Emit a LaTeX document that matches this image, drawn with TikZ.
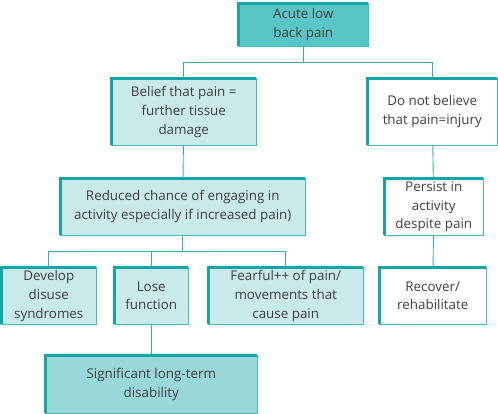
\documentclass[tikz,border=0pt]{standalone}
\usepackage{fontspec}
\setmainfont{Open Sans}
\usepackage{tikz}
\usetikzlibrary{positioning}
\definecolor{tealdark}{HTML}{12A6A8}
\definecolor{teallight}{HTML}{3DBDBE}
\definecolor{teallink}{HTML}{30B2B3}
\definecolor{filltop}{HTML}{58C5C7}
\definecolor{fillpale}{HTML}{C9E9EB}
\definecolor{fillmid}{HTML}{98D8D9}
\definecolor{txtgray}{HTML}{404040}

\begin{document}
\begin{tikzpicture}[x=1pt,y=1pt,every node/.style={font=\fontsize{13.4}{18.8}\selectfont,text=txtgray,align=center,inner sep=0pt,outer sep=0pt},
  box/.style={draw=teallight,line width=0.9pt,fill=fillpale},
  link/.style={draw=teallink,line width=0.9pt},
  edge/.style={draw=tealdark,line width=3pt}]
\useasboundingbox (0,0) rectangle (498,-414);
% top level
\node[box,fill=filltop,minimum width=129.5,minimum height=42.5] (pain) at (303.25,-24.75) {Acute low\\back pain};
\node[box,minimum width=144.5,minimum height=66.5] (belief) at (183.75,-111.75) {Belief that pain =\\further tissue\\damage};
\node[box,fill=white,minimum width=129.5,minimum height=66.5] (doubt) at (432.25,-111.75) {Do not believe\\that pain=injury};
% left branch
\node[box,minimum width=244.5,minimum height=56.5] (reduced) at (182.75,-206.75) {Reduced chance of engaging in\\activity especially if increased pain)};
\node[box,minimum width=94.5,minimum height=56.5] (develop) at (48.75,-295.75) {Develop\\disuse\\syndromes};
\node[box,minimum width=73.5,minimum height=56.5] (lose) at (151.25,-295.75) {Lose\\function};
\node[box,minimum width=154.5,minimum height=56.5] (fearful) at (285.75,-295.75) {Fearful++ of pain/\\movements that\\cause pain};
\node[box,fill=fillmid,minimum width=211.5,minimum height=57.5] (disability) at (151.25,-384.25) {Significant long-term\\disability};
% right branch
\node[box,fill=white,minimum width=98.5,minimum height=56.5] (persist) at (433.75,-206.75) {Persist in\\activity\\despite pain};
\node[box,fill=white,minimum width=106.5,minimum height=56.5] (recover) at (432.75,-295.75) {Recover/\\rehabilitate};
% connectors
\draw[link] (pain.south) -- ++(0,-16) -| (belief.north);
\draw[link] (pain.south) -- ++(0,-16) -| (doubt.north);
\draw[link] (belief) -- (reduced);
\foreach \n in {develop,lose,fearful}
  \draw[link] (reduced.south) -- ++(0,-16) -| (\n.north);
\draw[link] (lose) -- (disability);
\draw[link] (doubt) -- (persist);
\draw[link] (persist) -- (recover);
% heavy top and left edges
\foreach \n in {pain,belief,doubt,reduced,develop,lose,fearful,disability,persist,recover}
  \draw[edge] (\n.south west) -- (\n.north west) -- (\n.north east);
\end{tikzpicture}
\end{document}
